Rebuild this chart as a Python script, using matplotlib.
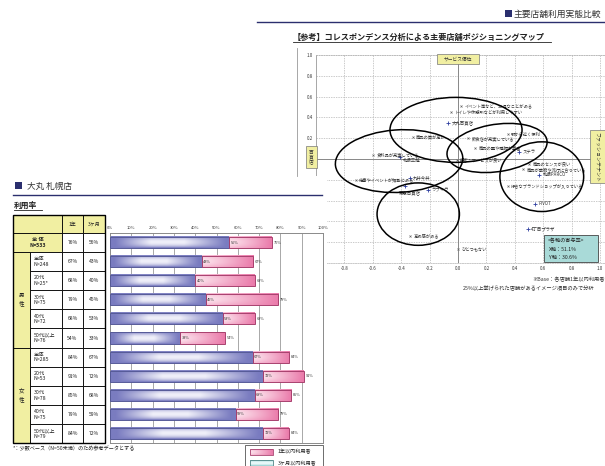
import numpy as np
import matplotlib
matplotlib.use('Agg')
import matplotlib.pyplot as plt
from matplotlib.patches import Rectangle, Ellipse

plt.rcParams['font.family'] = ['Noto Sans CJK JP', 'DejaVu Sans']

# ---------------- data ----------------
row_labels = ['全 体\nN=533', '全体\nN=248', '20代\nN=25*', '30代\nN=75', '40代\nN=72',
              '50代以上\nN=76', '全体\nN=285', '20代\nN=53', '30代\nN=78', '40代\nN=75',
              '50代以上\nN=79']
year1 = [76, 67, 68, 79, 68, 54, 84, 91, 85, 79, 84]
month3 = [56, 43, 40, 45, 53, 33, 67, 72, 68, 59, 72]
col_headers = ['1年', '3ヶ月']
group_labels = ['男\n性', '女\n性']
bar_ticks = list(range(0, 101, 10))
legend_labels = ['1年以内利用者', '3ヶ月以内利用者']

attr_labels = ['イベント等など、お得なことがある', 'トイレや休憩所などが利用しやすい',
               '商品の質が高い', '飲食店が充実している', '駅から近く便利',
               '商品の量や種類が豊富', '接客・サービスが良い', '商品のセンスが良い',
               '商品が季節や流行に合っている', '好きなブランドショップが入っている',
               '食料品が充実している', '催事やイベントが頻繁にある', '高級感がある',
               'ひとつもない']
attr_x = [0.02, -0.05, -0.32, 0.07, 0.35, 0.12, -0.01, 0.50, 0.46, 0.35, -0.60, -0.72, -0.34, 0.00]
attr_y = [0.51, 0.45, 0.21, 0.20, 0.24, 0.11, -0.01, -0.05, -0.10, -0.26, 0.04, -0.20, -0.74, -0.87]

store_labels = ['大丸百貨店', 'ステラ', '札幌PARCO', 'PIVOT', '札幌三越', '丸井今井',
                '東急百貨店', 'ラフィラ', '4丁目プラザ']
store_x = [-0.07, 0.43, 0.57, 0.54, -0.41, -0.34, -0.37, -0.21, 0.49]
store_y = [0.35, 0.07, -0.15, -0.43, 0.02, -0.18, -0.26, -0.30, -0.67]

ell_cx = [-0.014, -0.415, 0.275, 0.59, -0.28]
ell_cy = [0.28, -0.02, 0.106, -0.17, -0.53]
ell_w = [0.93, 0.90, 0.72, 0.59, 0.58]
ell_h = [0.625, 0.60, 0.45, 0.67, 0.60]
ell_ang = [0, 6, 15, 0, 0]

sc_ticks = [-0.8, -0.6, -0.4, -0.2, 0.0, 0.2, 0.4, 0.6, 0.8, 1.0]
contrib = ['<各軸の寄与率>', 'X軸：51.1%', 'Y軸：30.6%']

# ---------------- figure ----------------
W, H = 605, 466
fig = plt.figure(figsize=(6.05, 4.66), dpi=100)
NAVY = '#2b2f6e'
YEL = '#f1efa2'


def px_axes(x0, y0, x1, y1, **kw):
    return fig.add_axes([x0 / W, 1 - y1 / H, (x1 - x0) / W, (y1 - y0) / H], **kw)


# ---------------- scatter map ----------------
sc = px_axes(316, 55, 316 + 2.2 * 142, 263)
sc.set_xlim(-1.0, 1.2)
sc.set_ylim(-1.0, 1.0)
sc.set_xticks(sc_ticks)
sc.set_yticks(sc_ticks)
sc.set_xticklabels(['%.1f' % t for t in sc_ticks])
sc.set_yticklabels(['%.1f' % t if t > 0.1 else '' for t in sc_ticks])
sc.tick_params(length=0, labelsize=3.2, colors='#333333', pad=2)
sc.grid(True, ls=(0, (2, 1.5)), color='#b5b5b5', lw=0.5)
for s in ['top', 'right', 'bottom']:
    sc.spines[s].set_linestyle((0, (2, 1.5)))
    sc.spines[s].set_color('#b5b5b5')
    sc.spines[s].set_linewidth(0.5)
sc.spines['left'].set_color('#999999')
sc.spines['left'].set_linewidth(0.6)
sc.axhline(0, color='#888888', lw=0.7)
sc.axvline(0, color='#888888', lw=0.7)

sc.scatter(attr_x, attr_y, marker='x', s=2, color='#666666', lw=0.5, zorder=3)
for lab, x, y in zip(attr_labels, attr_x, attr_y):
    sc.text(x + 0.025, y, lab, fontsize=3.1, color='#333333', va='center', ha='left', zorder=4)
sc.scatter(store_x, store_y, marker='+', s=8, color='#2f3fa0', lw=0.6, zorder=3)
for lab, x, y in zip(store_labels, store_x, store_y):
    if lab == '東急百貨店':
        sc.text(x - 0.05, y - 0.065, lab, fontsize=3.2, color='#333333', va='center', ha='left', zorder=4)
    elif lab == '札幌三越':
        sc.text(x + 0.02, y - 0.035, lab, fontsize=3.2, color='#333333', va='center', ha='left', zorder=4)
    else:
        sc.text(x + 0.025, y, lab, fontsize=3.2, color='#333333', va='center', ha='left', zorder=4)
for cx, cy, w, h, a in zip(ell_cx, ell_cy, ell_w, ell_h, ell_ang):
    sc.add_patch(Ellipse((cx, cy), w, h, angle=a, fill=False, ec='black', lw=1.1, zorder=5))

# ---------------- page overlay ----------------
pg = fig.add_axes([0, 0, 1, 1])
pg.set_xlim(0, W)
pg.set_ylim(H, 0)
pg.axis('off')

# white cover where the bar page sits over the map
pg.add_patch(Rectangle((0, 176), 327, 300, fc='white', ec='none', zorder=0))

# top-right header
pg.add_patch(Rectangle((505, 10), 6.5, 6.5, fc=NAVY, ec='none'))
pg.text(514, 14, '主要店舗利用実態比較', fontsize=6.3, color='#333333', va='center', ha='left')
pg.plot([257, 605], [22, 22], color=NAVY, lw=1.0)

# scatter title
pg.text(293, 37, '【参考】コレスポンデンス分析による主要店舗ポジショニングマップ',
        fontsize=5.9, fontweight='bold', color='#222222', va='center', ha='left')
pg.plot([293, 551], [41.5, 41.5], color='#222222', lw=0.6)

# outer frame line of map
pg.plot([297, 297], [48, 176], color='#999999', lw=0.6)

# yellow labels on the map
pg.add_patch(Rectangle((437, 54), 42, 10, fc=YEL, ec='#777777', lw=0.5))
pg.text(458, 59, 'サービス優位', fontsize=3.4, color='#333333', ha='center', va='center')
pg.add_patch(Rectangle((306, 146), 11, 22, fc=YEL, ec='#777777', lw=0.5))
pg.text(311.5, 157, '百\n貨\n店', fontsize=3.4, color='#333333', ha='center', va='center', linespacing=1.0)
pg.add_patch(Rectangle((590, 130), 16, 53, fc=YEL, ec='#777777', lw=0.5))
pg.text(597, 156.5, 'ファッションテナント', fontsize=3.6, color='#333333', ha='center', va='center',
        rotation=270)

# contribution box
pg.add_patch(Rectangle((544, 235), 54, 27, fc='#a9dad8', ec='#444444', lw=0.6))
pg.text(548, 241, contrib[0], fontsize=3.7, color='#222222', va='center', ha='left')
pg.text(549, 249.5, contrib[1], fontsize=3.7, color='#222222', va='center', ha='left')
pg.text(549, 257.5, contrib[2], fontsize=3.7, color='#222222', va='center', ha='left')

# notes under map
pg.text(605, 280, '※Base：各店舗1年以内利用者', fontsize=3.8, color='#333333', va='center', ha='right')
pg.text(463, 288.5, '25%以上挙げられた店舗があるイメージ項目のみで分析', fontsize=3.8,
        color='#333333', va='center', ha='left')

# left section title
pg.add_patch(Rectangle((15, 182), 7, 7, fc=NAVY, ec='none'))
pg.text(27, 186, '大丸 札幌店', fontsize=6.2, color='#333333', va='center', ha='left')
pg.plot([13, 322], [195, 195], color=NAVY, lw=1.0)
pg.text(14, 205, '利用率', fontsize=5.6, fontweight='bold', color='#222222', va='center', ha='left')
pg.plot([14, 42], [210, 210], color='#222222', lw=0.6)

# table
top, hdr_b = 215, 233
rh = 210 / 11.0
cell_lw = 0.6


def cell(x0, y0, x1, y1, fc='white'):
    pg.add_patch(Rectangle((x0, y0), x1 - x0, y1 - y0, fc=fc, ec='black', lw=cell_lw, zorder=2))


cell(13, top, 62, hdr_b, YEL)
cell(62, top, 83, hdr_b, YEL)
cell(83, top, 105, hdr_b, YEL)
pg.text(72.5, 224, col_headers[0], fontsize=3.6, ha='center', va='center', zorder=3, color='#222222')
pg.text(94, 224, col_headers[1], fontsize=3.6, ha='center', va='center', zorder=3, color='#222222')

for i, lab in enumerate(row_labels):
    y0 = hdr_b + i * rh
    y1 = y0 + rh
    if i == 0:
        cell(13, y0, 62, y1, YEL)
        pg.text(37.5, (y0 + y1) / 2, lab, fontsize=3.8, ha='center', va='center', zorder=3,
                fontweight='bold', linespacing=1.15, color='#222222')
    else:
        cell(30, y0, 62, y1)
        pg.text(34, (y0 + y1) / 2, lab, fontsize=3.8, ha='left', va='center', zorder=3,
                linespacing=1.15, color='#222222')
    cell(62, y0, 83, y1)
    cell(83, y0, 105, y1)
    pg.text(72.5, (y0 + y1) / 2, '%d%%' % year1[i], fontsize=3.6, ha='center', va='center', zorder=3,
            color='#222222')
    pg.text(94, (y0 + y1) / 2, '%d%%' % month3[i], fontsize=3.6, ha='center', va='center', zorder=3,
            color='#222222')

for g, lab in enumerate(group_labels):
    y0 = hdr_b + (1 + 5 * g) * rh
    y1 = y0 + 5 * rh
    cell(13, y0, 30, y1, YEL)
    pg.text(21.5, (y0 + y1) / 2, lab, fontsize=4.0, ha='center', va='center', zorder=3,
            linespacing=1.5, color='#222222')
pg.add_patch(Rectangle((13, top), 92, 443 - top, fill=False, ec='black', lw=1.0, zorder=4))

# footnote
pg.text(13, 449, '*：少数ベース（N=50未満）のため参考データとする', fontsize=3.7, color='#222222',
        va='center', ha='left')


# gradient helpers
def blue_img(n=80, m=16):
    t = np.linspace(0, 1, n)
    s = np.linspace(0, 1, m)
    L = np.clip(np.minimum((t - 0.04) / 0.3, (0.97 - t) / 0.35), 0, 1)
    V = 1 - (2 * s - 1) ** 2
    k = (V[:, None] ** 0.8) * L[None, :] * 0.95
    dark = np.array([122, 124, 192]) / 255.0
    light = np.array([246, 246, 252]) / 255.0
    return dark[None, None, :] * (1 - k[..., None]) + light[None, None, :] * k[..., None]


def pink_img(n=60, m=16):
    t = np.linspace(0, 1, n)
    s = np.linspace(0, 1, m)
    light = np.array([252, 226, 236]) / 255.0
    dark = np.array([234, 122, 170]) / 255.0
    base = light[None, :] * (1 - t[:, None] ** 1.2) + dark[None, :] * (t[:, None] ** 1.2)
    e = 0.35 * (2 * s - 1) ** 2
    img = base[None, :, :] * (1 - e[:, None, None]) + dark[None, None, :] * e[:, None, None]
    return img


def cyan_img(n=40, m=10):
    t = np.linspace(0, 1, n)
    s = np.linspace(0, 1, m)
    V = 1 - (2 * s - 1) ** 2
    dark = np.array([150, 210, 210]) / 255.0
    light = np.array([235, 250, 250]) / 255.0
    k = V[:, None] * np.ones_like(t)[None, :]
    return dark[None, None, :] * (1 - k[..., None]) + light[None, None, :] * k[..., None]


# legend
pg.add_patch(Rectangle((245, 445), 78, 30, fc='white', ec='#555555', lw=0.6, zorder=2))
pg.imshow(pink_img(), extent=(250, 273, 455, 449), aspect='auto', zorder=3, interpolation='bilinear')
pg.add_patch(Rectangle((250, 449), 23, 6, fill=False, ec='#a8406e', lw=0.6, zorder=4))
pg.imshow(cyan_img(), extent=(250, 273, 466, 460), aspect='auto', zorder=3, interpolation='bilinear')
pg.add_patch(Rectangle((250, 460), 23, 6, fill=False, ec='#4f8585', lw=0.6, zorder=4))
pg.text(278, 452, legend_labels[0], fontsize=3.7, color='#222222', va='center', ha='left', zorder=4)
pg.text(278, 463, legend_labels[1], fontsize=3.7, color='#222222', va='center', ha='left', zorder=4)
pg.set_xlim(0, W)
pg.set_ylim(H, 0)

# ---------------- bar chart ----------------
bx = px_axes(110, 233, 323, 443)
bh = 0.58
bimg = blue_img()
pimg = pink_img()
for i in range(len(row_labels)):
    m3, y1v = month3[i], year1[i]
    bx.imshow(bimg, extent=(0, m3, i + bh / 2, i - bh / 2), aspect='auto', zorder=2,
              interpolation='bilinear')
    bx.imshow(pimg, extent=(m3, y1v, i + bh / 2, i - bh / 2), aspect='auto', zorder=2,
              interpolation='bilinear')
bx.barh(range(len(row_labels)), month3, height=bh, fill=False, edgecolor='#565a98', lw=0.7, zorder=3)
bx.barh(range(len(row_labels)), np.array(year1) - np.array(month3), left=month3, height=bh,
        fill=False, edgecolor='#a8406e', lw=0.7, zorder=3)
for i in range(len(row_labels)):
    bx.text(month3[i] + 0.6, i, '%d%%' % month3[i], fontsize=2.8, color='#333333', va='center',
            ha='left', zorder=4)
    bx.text(year1[i] + 0.9, i, '%d%%' % year1[i], fontsize=2.8, color='#333333', va='center',
            ha='left', zorder=4)
bx.set_xlim(0, 100)
bx.set_ylim(len(row_labels) - 0.5, -0.5)
bx.set_xticks(bar_ticks)
bx.set_xticklabels(['%d%%' % t for t in bar_ticks])
bx.xaxis.tick_top()
bx.tick_params(axis='x', length=0, labelsize=3.0, colors='#333333', pad=2.5)
bx.set_yticks([])
for xv in bar_ticks[1:-1]:
    bx.axvline(xv, color='#9a9a9a', lw=0.6, zorder=1)
for s in bx.spines.values():
    s.set_color('#8a8a8a')
    s.set_linewidth(0.7)

fig.savefig('out.png', dpi=100)
